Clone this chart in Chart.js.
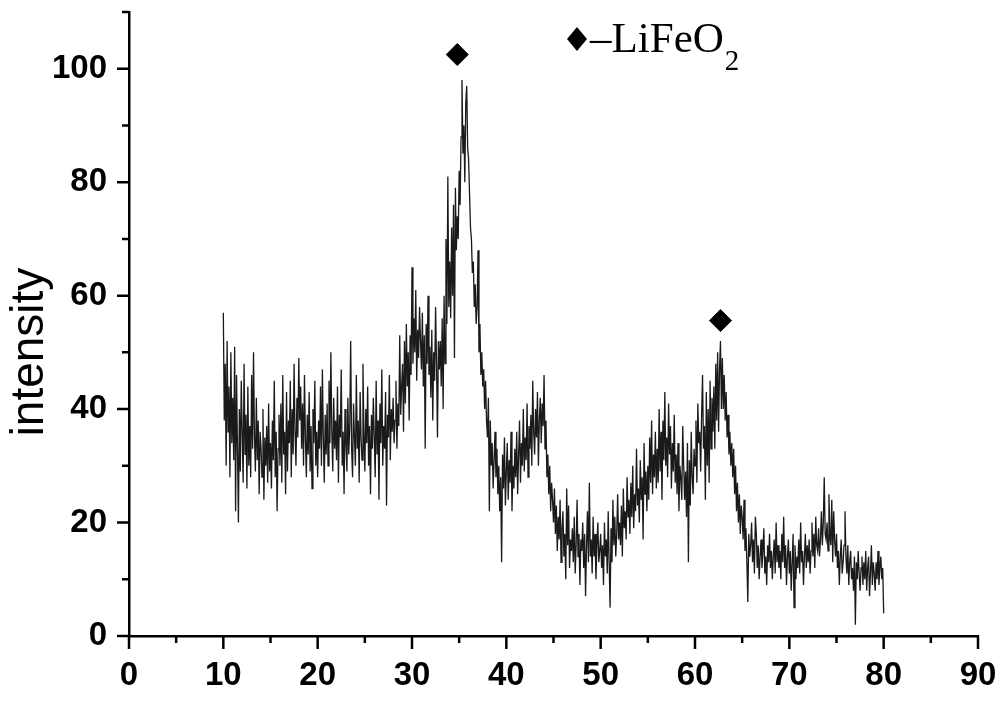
<!DOCTYPE html>
<html>
<head>
<meta charset="utf-8">
<script src="https://cdn.jsdelivr.net/npm/chart.js@4"></script>
<style>
  html, body { margin: 0; padding: 0; background: #fff; }
  #xrd { display: block; }
</style>
</head>
<body>
<canvas id="xrd" width="999" height="713"></canvas>
<script>
// 2theta scan, every 0.1 degree
const twoThetaStart = 10;
const twoThetaStep = 0.1;

const intensity10to20 = [
  57,38,48,30,52,36,44,28,50,34,
  42,31,51,22,46,33,20,40,29,45,
  36,27,48,32,39,26,44,30,37,28,
  46,33,50,35,29,42,31,38,25,36,
  33,28,40,24,35,30,37,27,41,29,
  34,26,38,31,45,28,36,22,33,39,
  30,41,27,46,32,36,25,43,29,38,
  34,45,28,40,32,48,36,30,42,35,
  49,38,44,33,41,30,46,35,28,39,
  32,43,29,37,26,40,34,45,30,36
];
const intensity20to30 = [
  28,38,33,44,30,47,35,27,39,32,
  41,30,45,34,50,36,29,42,33,38,
  31,44,27,39,35,47,30,36,25,40,
  34,29,42,32,37,52,33,28,41,35,
  30,46,33,38,27,43,35,31,48,36,
  29,40,34,44,30,37,25,39,33,42,
  35,28,45,32,38,24,41,34,47,30,
  37,33,43,23,39,35,46,31,40,36,
  42,34,38,45,33,41,37,53,39,44,
  48,36,52,41,55,44,50,38,53,46
];
const intensity30to40 = [
  65,48,56,50,61,45,54,49,58,52,
  47,57,44,53,33,55,48,60,46,51,
  42,54,38,50,45,58,48,35,52,47,
  52,44,56,40,60,48,70,55,81,58,
  66,56,72,60,76,49,79,68,74,70,
  82,76,88,98,85,90,80,94,97,86,
  84,78,72,70,64,66,58,62,55,58,
  68,50,55,46,50,44,47,40,45,38,
  35,42,22,38,30,34,26,31,36,28,
  33,25,30,22,28,13,32,26,35,23
];
const intensity40to50 = [
  29,34,24,31,27,36,22,30,26,33,
  28,36,25,32,38,27,34,30,40,29,
  35,31,41,28,37,33,39,30,45,36,
  32,40,35,43,30,38,42,34,41,37,
  46,33,38,28,32,25,30,22,27,24,
  20,26,18,23,15,21,17,24,13,19,
  22,14,18,10,26,16,23,12,17,15,
  19,13,21,11,16,24,14,18,9,17,
  15,20,12,18,7,16,22,13,27,14,
  17,11,21,14,18,10,16,20,13,15
];
const intensity50to60 = [
  18,12,16,9,20,14,17,11,22,13,
  5,19,13,24,16,21,14,18,25,17,
  20,16,23,14,26,19,22,17,28,21,
  24,18,27,21,30,19,25,22,33,23,
  26,20,31,24,28,17,34,25,29,22,
  30,24,35,27,38,25,32,28,36,26,
  33,27,40,29,36,24,38,31,43,30,
  35,28,41,32,37,26,34,29,39,27,
  32,25,34,22,30,28,24,37,30,24,
  29,21,34,13,31,23,36,28,25,33
];
const intensity60to70 = [
  30,38,27,41,34,36,29,39,46,33,
  37,24,43,30,40,27,45,33,42,36,
  44,33,48,38,50,36,47,52,40,49,
  40,46,38,43,35,39,32,36,30,34,
  28,33,25,30,22,27,20,25,18,23,
  21,17,24,15,19,13,6,18,14,16,
  20,13,17,11,21,18,12,16,10,14,
  17,12,15,19,11,14,9,16,13,18,
  12,15,10,14,17,11,20,13,16,12,
  15,10,18,13,21,12,16,9,14,17
];
const intensity70to80 = [
  11,15,8,13,18,5,16,10,14,12,
  17,11,20,13,15,9,14,18,12,16,
  13,17,11,15,20,14,18,12,21,16,
  15,19,14,17,22,16,20,28,18,17,
  20,15,25,18,16,24,13,22,17,14,
  18,12,15,9,14,17,11,13,16,22,
  14,11,16,9,13,15,10,12,8,14,
  2,13,10,15,11,8,12,14,9,13,
  10,15,8,12,14,7,11,16,9,13,
  11,8,13,10,15,9,12,14,10,12,
  4
];

// diamond markers over the LiFeO2 reflections
const markerTwoTheta = [34.8, 62.7];
const markerHeight = [102.5, 55.6];

// axis ticks
const xMajorTicks = [0, 10, 20, 30, 40, 50, 60, 70, 80, 90];
const xMinorTicks = [5, 15, 25, 35, 45, 55, 65, 75, 85];
const yMajorTicks = [0, 20, 40, 60, 80, 100];
const yMinorTicks = [10, 30, 50, 70, 90, 110];

const intensity = [].concat(intensity10to20, intensity20to30, intensity30to40,
  intensity40to50, intensity50to60, intensity60to70, intensity70to80);
const scanPoints = intensity.map((v, i) => ({ x: +(twoThetaStart + i * twoThetaStep).toFixed(1), y: v }));
const markerPoints = markerTwoTheta.map((t, i) => ({ x: t, y: markerHeight[i] }));

const tickFont = { family: '"Liberation Sans", Arial, sans-serif', size: 33, weight: 'bold' };

// tick marks (long major, short minor) + y title + legend
const decorations = {
  id: 'decorations',
  afterDraw(chart) {
    const ctx = chart.ctx;
    const xs = chart.scales.x, ys = chart.scales.y;
    ctx.save();
    ctx.strokeStyle = '#000';
    ctx.lineWidth = 2.5;
    ctx.beginPath();
    xMajorTicks.forEach(v => { const p = xs.getPixelForValue(v); ctx.moveTo(p, ys.bottom); ctx.lineTo(p, ys.bottom + 13); });
    xMinorTicks.forEach(v => { const p = xs.getPixelForValue(v); ctx.moveTo(p, ys.bottom); ctx.lineTo(p, ys.bottom + 7); });
    yMajorTicks.forEach(v => { const p = ys.getPixelForValue(v); ctx.moveTo(xs.left, p); ctx.lineTo(xs.left - 12, p); });
    yMinorTicks.forEach(v => { const p = ys.getPixelForValue(v); ctx.moveTo(xs.left, p); ctx.lineTo(xs.left - 7, p); });
    ctx.stroke();

    // y axis title
    ctx.fillStyle = '#000';
    ctx.save();
    ctx.translate(30, 352);
    ctx.rotate(-Math.PI / 2);
    ctx.font = '46px "Liberation Sans", Arial, sans-serif';
    ctx.textAlign = 'center';
    ctx.textBaseline = 'middle';
    ctx.fillText('intensity', 0, 0);
    ctx.restore();

    // legend: diamond -LiFeO2
    ctx.beginPath();
    ctx.moveTo(577, 27); ctx.lineTo(587, 39); ctx.lineTo(577, 51); ctx.lineTo(567, 39);
    ctx.closePath();
    ctx.fill();
    ctx.font = '43px "Liberation Serif", "Times New Roman", serif';
    ctx.textAlign = 'left';
    ctx.textBaseline = 'alphabetic';
    const main = '\u2013LiFeO';
    ctx.fillText(main, 590, 52);
    const w = ctx.measureText(main).width;
    ctx.font = '29px "Liberation Serif", "Times New Roman", serif';
    ctx.fillText('2', 591 + w, 70);
    ctx.restore();
  }
};

new Chart(document.getElementById('xrd'), {
  type: 'scatter',
  data: {
    datasets: [
      {
        label: 'markers',
        data: markerPoints,
        pointStyle: 'rectRot',
        pointRadius: 11,
        backgroundColor: '#000',
        borderColor: '#000',
        showLine: false
      },
      {
        label: 'XRD',
        data: scanPoints,
        showLine: true,
        borderColor: '#1a1a1a',
        borderWidth: 1.3,
        pointRadius: 0,
        tension: 0
      }
    ]
  },
  options: {
    responsive: false,
    devicePixelRatio: 1,
    animation: false,
    events: [],
    layout: { padding: { left: 0, right: 21, top: 8, bottom: 0 } },
    plugins: { legend: { display: false }, tooltip: { enabled: false } },
    scales: {
      x: {
        type: 'linear',
        min: 0,
        max: 90,
        grid: { display: false, drawTicks: false },
        border: { display: true, color: '#000', width: 2.5 },
        ticks: { color: '#000', font: tickFont, padding: 20, maxRotation: 0 },
        afterBuildTicks: s => { s.ticks = xMajorTicks.map(v => ({ value: v })); },
        afterFit: s => { s.height = 77; s.paddingLeft = 0; s.paddingRight = 0; }
      },
      y: {
        type: 'linear',
        min: 0,
        max: 110,
        grid: { display: false, drawTicks: false },
        border: { display: true, color: '#000', width: 2.5 },
        ticks: { color: '#000', font: tickFont, padding: 22 },
        afterBuildTicks: s => { s.ticks = yMajorTicks.map(v => ({ value: v })); },
        afterFit: s => { s.width = 129; s.paddingTop = 0; s.paddingBottom = 0; }
      }
    }
  },
  plugins: [decorations]
});
</script>
</body>
</html>
